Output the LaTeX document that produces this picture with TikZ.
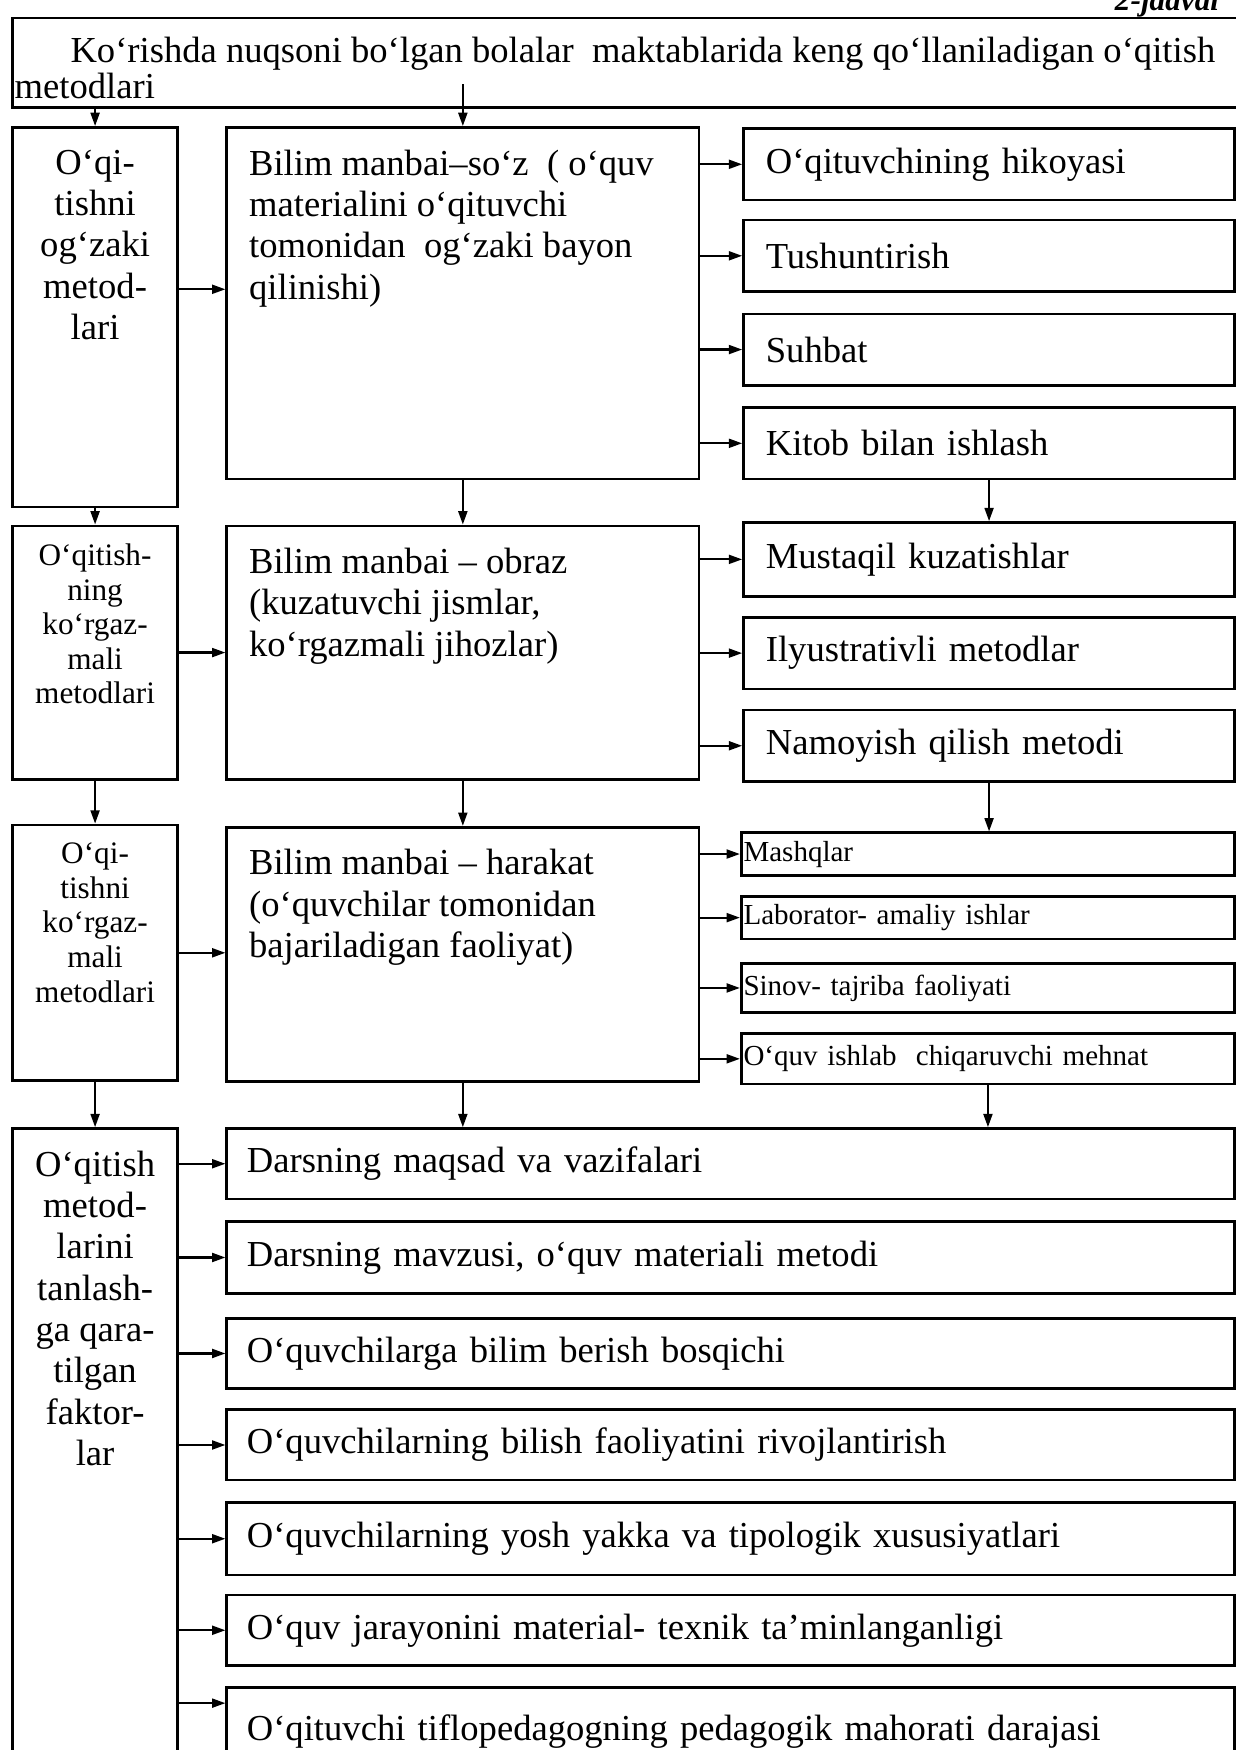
\documentclass[tikz,border=0pt]{standalone}
\usepackage{fontspec}
\setmainfont{Liberation Serif}
\usetikzlibrary{arrows.meta}

\newcommand{\fsmain}{\fontsize{16.4}{18.5}\selectfont}
\newcommand{\fstitle}{\fontsize{16.4}{16}\selectfont}
\newcommand{\fsmid}{\fontsize{14}{15.5}\selectfont}
\newcommand{\fssmall}{\fontsize{13}{15}\selectfont}
\newcommand{\fsjad}{\bfseries\itshape\fontsize{14}{14}\selectfont}

\begin{document}
\begin{tikzpicture}[
                x=0.5pt, y=-0.5pt,
                line width=1pt,
                frame/.style={draw, line width=1.2pt, anchor=north west},
                leftbox/.style={frame, inner xsep=4pt, inner ysep=10pt},
                midbox/.style={frame, inner xsep=10pt, inner ysep=10pt, font=\fsmain},
                rbox/.style={frame, minimum height=32pt, text width=200pt, inner xsep=10pt, inner ysep=0pt, align=left, font=\fsmain},
                sbox/.style={frame, text width=219pt, inner xsep=1pt, inner ysep=0pt, align=left, font=\fssmall},
                dbox/.style={frame, minimum height=31.5pt, text width=433.5pt, inner xsep=9pt, inner ysep=0pt, align=left, font=\fsmain},
                arr/.style={-{Triangle[length=6pt,width=4pt]}, line width=1pt}
                ] %

\useasboundingbox (0,0) rectangle (1107,1568);

% heading
\node[font=\fsjad, anchor=base east] (J) at (1100,9) {2-jadval};
\node[frame, inner xsep=1pt, inner ysep=4.5pt, font=\fstitle] (T) at (10,15) {\parbox[t][31pt][t]{553pt}{\rule{0pt}{15.5pt}\hspace*{25pt}Ko‘rishda nuqsoni bo‘lgan bolalar\ \ maktablarida keng qo‘llaniladigan o‘qitish\\metodlari}};

% left column
\node[leftbox, font=\fsmain] (A1) at (10,113) {\parbox[t][150pt][t]{66pt}{\centering O‘qi-\\tishni\\og‘zaki\\metod-\\lari}}; % 1
\node[leftbox, inner ysep=8pt, font=\fsmid] (A2) at (10,470) {\parbox[t][97.5pt][t]{66pt}{\centering O‘qitish-\\ning\\ko‘rgaz-\\mali\\metodlari}}; % 2
\node[leftbox, inner ysep=8pt, font=\fsmid] (A3) at (10,738) {\parbox[t][98.5pt][t]{66pt}{\centering O‘qi-\\tishni\\ko‘rgaz-\\mali\\metodlari}}; % 3
\node[leftbox, font=\fsmain] (A4) at (10,1010) {\parbox[t][275pt][t]{66pt}{\centering O‘qitish\\metod-\\larini\\tanlash-\\ga qara-\\tilgan\\faktor-\\lar}}; % 4

% middle column
\node[midbox] (B1) at (202,113) {\parbox[t][137.5pt][t]{191.5pt}{\raggedright Bilim manbai–so‘z\ \ ( o‘quv\\materialini o‘qituvchi\\tomonidan\ \ og‘zaki bayon\\qilinishi)}}; % 1
\node[midbox] (B2) at (202,470) {\parbox[t][93.5pt][t]{191.5pt}{\raggedright Bilim manbai – obraz\\(kuzatuvchi jismlar,\\ko‘rgazmali jihozlar)}}; % 2
\node[midbox] (B3) at (202,740) {\parbox[t][94pt][t]{191.5pt}{\raggedright Bilim manbai – harakat\\(o‘quvchilar tomonidan\\bajariladigan faoliyat)}}; % 3

% right column
\node[rbox] (C1) at (665,114) {O‘qituvchining hikoyasi};
\node[rbox] (C2) at (665,196) {Tushuntirish};
\node[rbox] (C3) at (665,280) {Suhbat};
\node[rbox] (C4) at (665,364) {Kitob bilan ishlash};

\node[rbox, minimum height=33pt] (C5) at (665,467) {Mustaqil kuzatishlar};
\node[rbox] (C6) at (665,552) {Ilyustrativli metodlar};
\node[rbox] (C7) at (665,635) {Namoyish qilish metodi};

\node[sbox, minimum height=19pt] (C8) at (663,745) {Mashqlar};
\node[sbox, minimum height=19pt] (C9) at (663,802) {Laborator- amaliy ishlar};
\node[sbox, minimum height=22pt] (C10) at (663,862) {Sinov- tajriba faoliyati};
\node[sbox, minimum height=22.5pt] (C11) at (663,925) {O‘quv ishlab\ \ chiqaruvchi mehnat};

% bottom rows
\node[dbox] (D1) at (202,1010) {Darsning maqsad va vazifalari};
\node[dbox, minimum height=32.5pt] (D2) at (202,1093) {Darsning mavzusi, o‘quv materiali metodi};
\node[dbox] (D3) at (202,1180) {O‘quvchilarga bilim berish bosqichi};
\node[dbox] (D4) at (202,1262) {O‘quvchilarning bilish faoliyatini rivojlantirish};
\node[dbox, minimum height=32.5pt] (D5) at (202,1345) {O‘quvchilarning yosh yakka va tipologik xususiyatlari};
\node[dbox] (D6) at (202,1428) {O‘quv jarayonini material- texnik ta’minlanganligi};
\node[dbox, minimum height=39pt] (D7) at (202,1511) {O‘qituvchi tiflopedagogning pedagogik mahorati darajasi};

%%%%%%%%%%%%%%%%%%%%%%%%%%%%%%%%%%%%%%%%%%%%%%%%%%%%%%%%%%%%%%%%%%%%%%%%%%%%%%%%%%%%

% downwards
\draw[arr] (A1.north |- T.south) -- (A1.north);
\draw[arr] (A1.south) -- (A2.north);
\draw[arr] (A2.south) -- (A3.north);
\draw[arr] (A3.south) -- (A4.north);

\draw[arr] (B1.north |- T.south) ++(0,-22) -- (B1.north);
\draw[arr] (B1.south) -- (B2.north);
\draw[arr] (B2.south) -- (B3.north);
\draw[arr] (B3.south) -- (B3.south |- D1.north);

\draw[arr] (C4.south) -- (C5.north);
\draw[arr] (C7.south) -- (C7.south |- C8.north);
\draw[arr] (C11.south) -- (C11.south |- D1.north);

% sideways
\coordinate (a1) at ([yshift=12.5pt]A1.east);
\draw[arr] (a1) -- (a1 -| B1.west);
\draw[arr] (A2.east) -- (A2.east -| B2.west);
\draw[arr] (A3.east) -- (A3.east -| B3.west);

\foreach \c in {C1,C2,C3,C4}
    \draw[arr] (B1.east |- \c.west) -- (\c.west);
\foreach \c in {C5,C6,C7}
    \draw[arr] (B2.east |- \c.west) -- (\c.west);
\foreach \c in {C8,C9,C10,C11}
    \draw[arr] (B3.east |- \c.west) -- (\c.west);

\foreach \d in {D1,D2,D3,D4,D5,D6}
    \draw[arr] (A4.east |- \d.west) -- (\d.west);
\coordinate (d7) at ([yshift=-7.5pt]D7.north west);
\draw[arr] (A4.east |- d7) -- (d7);

\end{tikzpicture}
\end{document}
